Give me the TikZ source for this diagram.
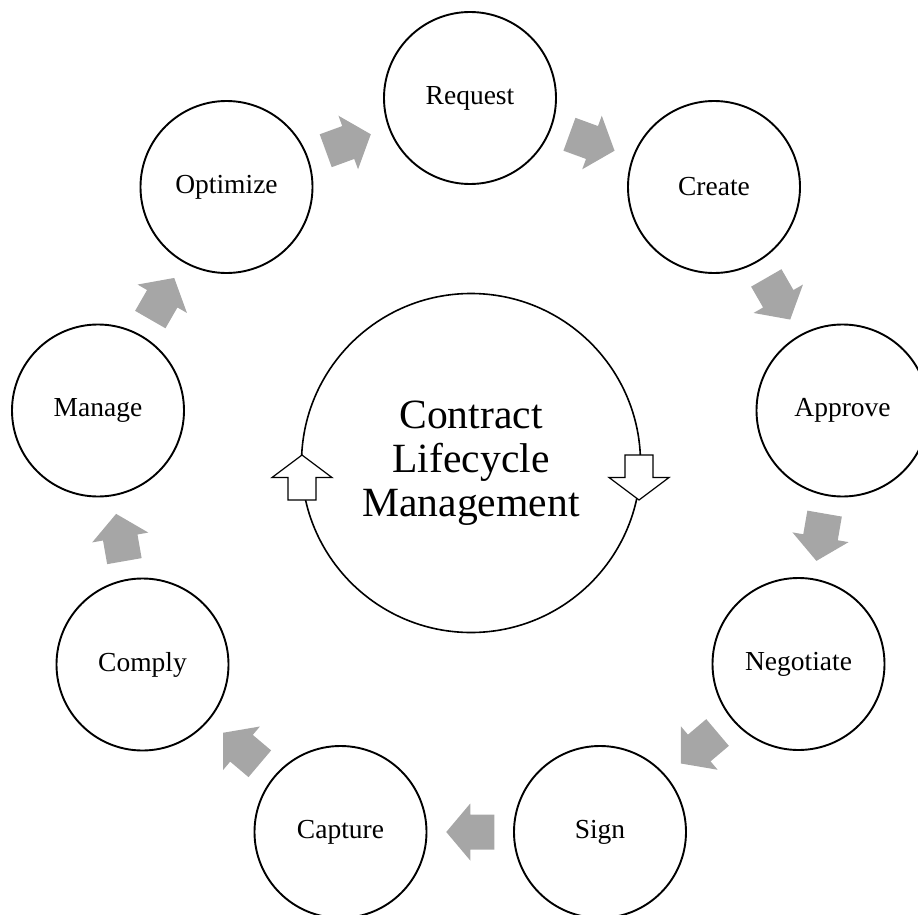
\documentclass[tikz,border=0pt]{standalone}
\usepackage{fontspec}
\setmainfont{Liberation Serif}
\usetikzlibrary{calc}
\definecolor{arrowgray}{RGB}{166,166,166}
\tikzset{
  stage/.style={circle, draw=black, line width=1.9pt, minimum size=172pt, inner sep=0pt,
    font=\fontsize{27.5}{33}\selectfont},
  hub/.style={circle, draw=black, line width=1.6pt, minimum size=339pt, inner sep=0pt,
    align=center, font=\fontsize{41.6}{44}\selectfont},
  flowfill/.style={fill=arrowgray},
  hubarrow/.style={fill=white, draw=black, line width=1.2pt, line join=miter},
}
\newcommand\stepconnect[2]{%
  \fill[flowfill] let \p1=($(#2)-(#1)$), \n1={atan2(\y1,\x1)}, \p2=($(#1)!0.5!(#2)$) in
    ($(\p2)+(\n1:-24pt)+(\n1+90:17.5pt)$) -- ($(\p2)+(\n1+90:17.5pt)$)
    -- ($(\p2)+(\n1+90:28.5pt)$) -- ($(\p2)+(\n1:24pt)$)
    -- ($(\p2)+(\n1-90:28.5pt)$) -- ($(\p2)+(\n1-90:17.5pt)$)
    -- ($(\p2)+(\n1:-24pt)+(\n1-90:17.5pt)$) -- cycle;}
\begin{document}
\begin{tikzpicture}[x=1pt,y=-1pt]
\useasboundingbox (0,0) rectangle (918,915);
\node[stage] (request)   at (470,98)    {Request};
\node[stage] (create)    at (714,187)   {Create};
\node[stage] (approve)   at (842.5,410.5) {Approve};
\node[stage] (negotiate) at (798.5,664) {Negotiate};
\node[stage] (sign)      at (600,832)   {Sign};
\node[stage] (capture)   at (340.5,832) {Capture};
\node[stage] (comply)    at (142.5,664.5) {Comply};
\node[stage] (manage)    at (98,410.5)  {Manage};
\node[stage] (optimize)  at (226.5,187) {Optimize};
\node[hub] (hub) at (471,463) {Contract\\Lifecycle\\Management};

\stepconnect{request}{create}
\stepconnect{create}{approve}
\stepconnect{approve}{negotiate}
\stepconnect{negotiate}{sign}
\stepconnect{sign}{capture}
\stepconnect{capture}{comply}
\stepconnect{comply}{manage}
\stepconnect{manage}{optimize}
\stepconnect{optimize}{request}

\coordinate (la) at ($(hub.center)+(-169pt,-14.5pt)$);
\coordinate (ra) at ($(hub.center)+(168pt,-14.5pt)$);
\draw[hubarrow] ($(la)+(-14pt,-22.5pt)$) -- ($(la)+(-14pt,0pt)$) -- ($(la)+(-30pt,0pt)$)
  -- ($(la)+(0pt,22.5pt)$) -- ($(la)+(30pt,0pt)$) -- ($(la)+(14pt,0pt)$)
  -- ($(la)+(14pt,-22.5pt)$) -- cycle;
\draw[hubarrow] ($(ra)+(-14pt,22.5pt)$) -- ($(ra)+(-14pt,0pt)$) -- ($(ra)+(-30pt,0pt)$)
  -- ($(ra)+(0pt,-22.5pt)$) -- ($(ra)+(30pt,0pt)$) -- ($(ra)+(14pt,0pt)$)
  -- ($(ra)+(14pt,22.5pt)$) -- cycle;
\end{tikzpicture}
\end{document}
